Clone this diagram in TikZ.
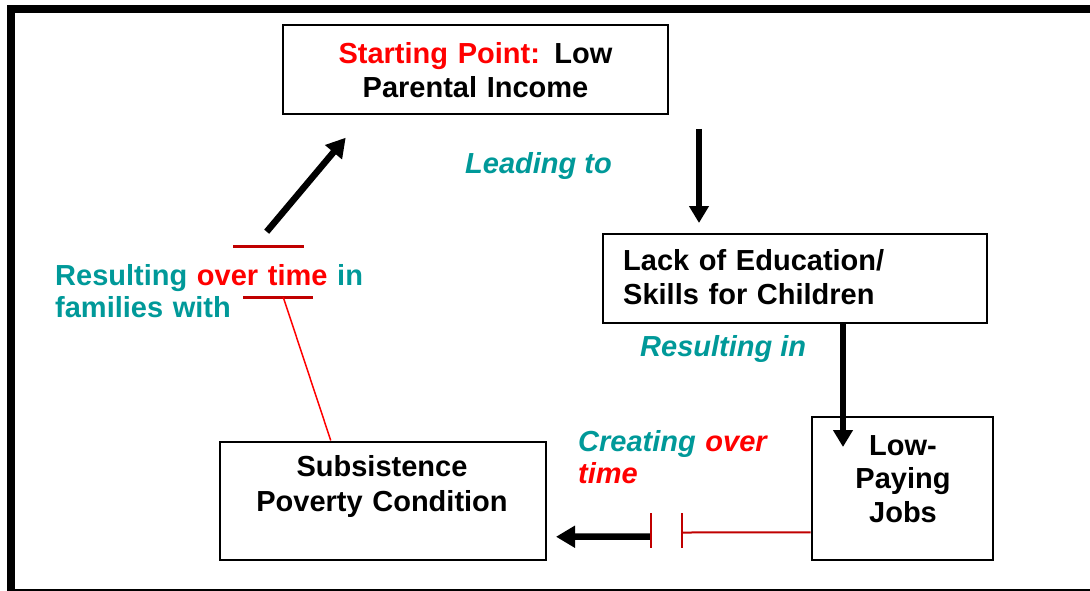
\documentclass[tikz,border=0pt]{standalone}
\usepackage{fontspec}
\setmainfont{Liberation Sans}
\usetikzlibrary{arrows.meta}
\definecolor{tealtxt}{RGB}{0,153,153}
\definecolor{redtxt}{RGB}{255,0,0}
\definecolor{darkred}{RGB}{192,0,0}

\begin{document}
\begin{tikzpicture}[x=1pt,y=-1pt,
  box/.style={draw=black, line width=2pt, rectangle, inner sep=0pt},
  txt/.style={inner sep=0pt, font=\bfseries\fontsize{29}{34}\selectfont},
  lbl/.style={inner sep=0pt, font=\bfseries\fontsize{29}{32}\selectfont, text=tealtxt},
  arr/.style={line width=5.5pt, -{Triangle[length=17pt,width=19pt]}},
  heavyarr/.style={line width=6.5pt, -{Triangle[length=19pt,width=21pt]}},
  tick/.style={draw=darkred, line width=2pt},
  link/.style={draw=redtxt, line width=1.5pt}]

% page and outer frame
\useasboundingbox (0,0) rectangle (1090,591);
\clip (0,0) rectangle (1090,591);
\draw[line width=8pt] (10.8,8.8) rectangle (1100,592.5);

% boxes
\node[box, minimum width=385pt, minimum height=89pt] (start) at (475.5,69.5) {};
\node[box, minimum width=384pt, minimum height=89pt] (lack) at (795,278.5) {};
\node[box, minimum width=181pt, minimum height=143.5pt] (jobs) at (902,488.25) {};
\node[box, minimum width=326.5pt, minimum height=118.5pt] (subs) at (382.75,500.75) {};

% box texts
\node[txt, anchor=base, text width=380pt, align=center] (starttxt) at (475.5,64)
  {\textcolor{redtxt}{Starting Point:} Low\\Parental Income};
\node[txt, anchor=base west, text width=360pt, align=left] (lacktxt) at (623,270)
  {Lack of Education/\\Skills for Children};
\node[txt, anchor=base, text width=170pt, align=center,
      font=\bfseries\fontsize{29}{33.5}\selectfont] (jobstxt) at (903,455)
  {Low-\\Paying\\Jobs};
\node[txt, anchor=base, text width=320pt, align=center,
      font=\bfseries\fontsize{29}{35}\selectfont] (substxt) at (382,476.7)
  {Subsistence\\Poverty Condition};

% connector labels
\node[lbl, anchor=base west, font=\bfseries\itshape\fontsize{29}{32}\selectfont] (leadtxt) at (465,173.3) {Leading to};
\node[lbl, anchor=base west, font=\bfseries\itshape\fontsize{29}{32}\selectfont] (restxt) at (640,356.7) {Resulting in};
\node[lbl, anchor=base west, text width=220pt, align=left,
      font=\bfseries\itshape\fontsize{29}{31.6}\selectfont] (creattxt) at (578,451.7)
  {Creating \textcolor{redtxt}{over}\\\textcolor{redtxt}{time}};
\node[lbl, anchor=base west, text width=320pt, align=left] (famtxt) at (55,285)
  {Resulting \textcolor{redtxt}{over time} in\\families with};

% free ends
\coordinate (diagtail) at (266.7,231.7);
\coordinate (gapL) at (651,536.7);
\coordinate (gapR) at (682,532.5);
\coordinate (barA) at (283.3,297.3);

% arrows of the cycle
\draw[arr] ([xshift=223.5pt,yshift=-14pt]start.south) -- ([xshift=-96pt,yshift=10pt]lack.north);
\draw[arr] ([xshift=48pt]lack.south) -- ([xshift=-59pt,yshift=-31.5pt]jobs.north);
\draw[heavyarr] (gapL) -- ([xshift=9pt,yshift=-36pt]subs.east);
\draw[heavyarr] (diagtail) -- ([xshift=63.7pt,yshift=-22.7pt]start.south west);

% time break on the lower connector
\draw[tick] ([yshift=-44.2pt]jobs.west) -- (gapR);
\draw[tick] (682,513) -- (682,548);
\draw[tick] (651,513) -- (651,548);

% time break on the left connector
\draw[tick, line width=2.5pt] (233,246.7) -- (304,246.7);
\draw[tick, line width=2.5pt] (243,297.3) -- (313,297.3);
\draw[link] (barA) -- ([xshift=-52pt]subs.north);

\end{tikzpicture}
\end{document}
